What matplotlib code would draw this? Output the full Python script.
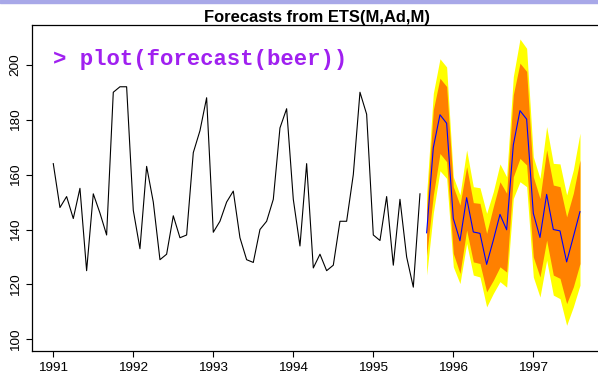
import matplotlib
matplotlib.use("Agg")
import matplotlib.pyplot as plt
from matplotlib.patches import Rectangle
import numpy as np

# monthly beer production, Jan 1991 - Aug 1995
beer = [164, 148, 152, 144, 155, 125, 153, 146, 138, 190, 192, 192,
        147, 133, 163, 150, 129, 131, 145, 137, 138, 168, 176, 188,
        139, 143, 150, 154, 137, 129, 128, 140, 143, 151, 177, 184,
        151, 134, 164, 126, 131, 125, 127, 143, 143, 160, 190, 182,
        138, 136, 152, 127, 151, 130, 119, 153]

# forecasts, Sep 1995 - Aug 1997
fc_mean = [138.8, 169.8, 181.8, 178.7, 144.0, 135.9, 151.6, 139.1, 138.6, 127.3, 136.1, 145.5,
           139.9, 170.8, 183.3, 180.2, 145.9, 137.1, 152.8, 140.0, 139.5, 128.2, 137.3, 146.5]
lo80 = [130.5, 152.5, 167.7, 164.7, 131.3, 124.0, 139.8, 128.2, 127.6, 117.3, 121.5, 126.4,
        124.5, 159.2, 165.9, 163.5, 130.0, 122.7, 136.1, 123.4, 122.2, 113.0, 119.1, 127.6]
hi80 = [147.5, 183.6, 195.1, 192.1, 155.6, 148.9, 162.9, 149.8, 149.5, 138.6, 148.3, 157.4,
        153.2, 189.1, 200.6, 197.6, 159.2, 151.3, 169.0, 156.2, 155.6, 144.6, 153.2, 165.3]
lo95 = [123.4, 146.0, 161.4, 158.6, 126.4, 120.3, 134.9, 123.4, 122.7, 111.8, 116.7, 121.0,
        119.0, 151.3, 157.4, 155.6, 122.7, 115.4, 128.8, 116.1, 114.8, 105.1, 111.8, 119.7]
hi95 = [153.0, 189.6, 202.2, 199.2, 159.2, 152.6, 169.0, 155.6, 155.2, 145.9, 153.8, 163.9,
        159.2, 195.7, 209.4, 206.0, 166.5, 158.6, 177.5, 164.1, 163.9, 152.6, 161.7, 175.1]

year_ticks = [1991, 1992, 1993, 1994, 1995, 1996, 1997]
value_ticks = [100, 120, 140, 160, 180, 200]

t_obs = 1991 + np.arange(len(beer)) / 12
t_fc = 1991 + (len(beer) + np.arange(len(fc_mean))) / 12

plt.rcParams["font.family"] = ["Liberation Sans", "DejaVu Sans"]

fig = plt.figure(figsize=(5.98, 3.78), dpi=100)
ax = fig.add_axes([32 / 598, 1 - 351 / 378, 569 / 598, 326 / 378])

ax.plot(t_obs, beer, color="black", lw=0.8)
ax.fill_between(t_fc, lo95, hi95, color="#ffff00", lw=0)
ax.fill_between(t_fc, lo80, hi80, color="#ff8000", lw=0)
ax.plot(t_fc, fc_mean, color="#0000ff", lw=0.8)

ax.set_xlim(1990.734, 1997.846)
ax.set_ylim(95.74, 214.5)
ax.set_xticks(year_ticks)
ax.set_xticklabels([str(y) for y in year_ticks])
ax.set_yticks(value_ticks)
ax.set_yticklabels([str(v) for v in value_ticks], rotation=90, va="center")
ax.tick_params(axis="both", length=4.5, width=0.8, labelsize=9.7, color="black")
ax.tick_params(axis="y", pad=3)
ax.tick_params(axis="x", pad=3.5)
for side in ["left", "top", "bottom"]:
    ax.spines[side].set_linewidth(0.9)
ax.spines["right"].set_visible(False)

ax.set_title("Forecasts from ETS(M,Ad,M)", fontsize=11.9, fontweight="bold", pad=2.5)

fig.text(53 / 598, 1 - 65 / 378, "> plot(forecast(beer))", color="#a020f0",
         fontsize=16, fontweight="bold", family=["Liberation Mono", "DejaVu Sans Mono"],
         va="baseline", ha="left")

fig.patches.append(Rectangle((0, 1 - 3 / 378), 1, 3 / 378, transform=fig.transFigure,
                             color="#a8a8e8", zorder=5))

fig.savefig("out.png", dpi=100)
